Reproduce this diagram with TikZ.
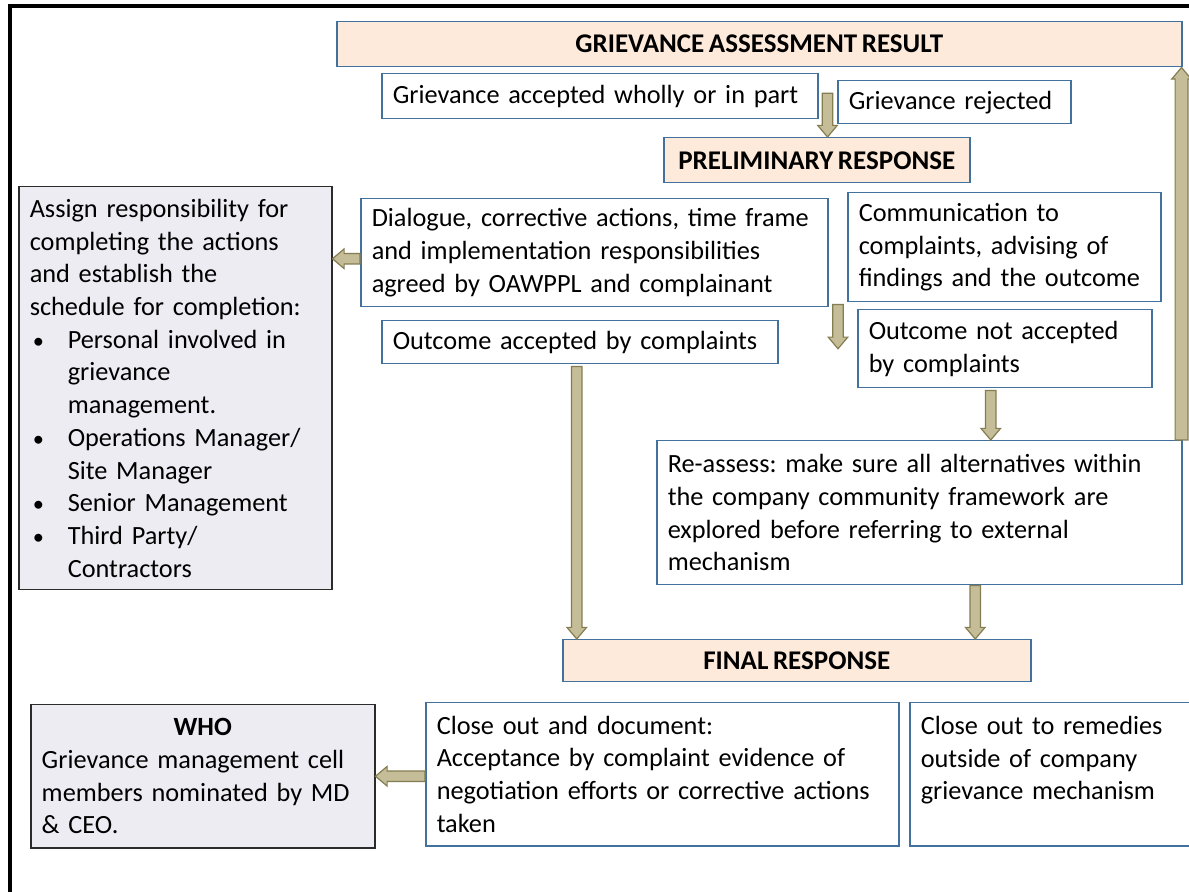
\documentclass[tikz,border=0pt]{standalone}
\usepackage{fontspec}
\setmainfont{Carlito}
\usetikzlibrary{calc}
\definecolor{boxblue}{HTML}{41719C}
\definecolor{peach}{HTML}{FDEADA}
\definecolor{lav}{HTML}{EEECF3}
\definecolor{lavborder}{HTML}{2B2B2B}
\definecolor{arrowfill}{HTML}{C4BD97}
\definecolor{arrowdraw}{HTML}{857D52}
\newcommand{\blt}{\makebox[19pt][l]{\hspace{1.5pt}\scalebox{0.85}{\textbullet}}}
\newcommand{\ind}{\hspace*{19pt}}
\newcommand{\myfnt}{\fontsize{13.15}{16.35}\selectfont\frenchspacing\spaceskip=0.17em plus 0.1em minus 0.04em\relax}
\newcommand{\hdfnt}{\fontsize{13.5}{16.35}\selectfont\bfseries\spaceskip=0.17em plus 0.1em minus 0.04em\relax}
\newcommand{\blockarrow}[3][2.6pt]{%
  \coordinate (ba) at (#2);
  \coordinate (bb) at (#3);
  \coordinate (bh) at ($(bb)!5.8pt!(ba)$);
  \filldraw[barrow] ($(ba)!#1!90:(bb)$) -- ($(bh)!#1!90:(bb)$) -- ($(bh)!4.9pt!90:(bb)$) -- (bb) -- ($(bh)!4.9pt!-90:(bb)$) -- ($(bh)!#1!-90:(bb)$) -- ($(ba)!#1!-90:(bb)$) -- cycle;}
\begin{document}
\begin{tikzpicture}[x=0.5pt,y=-0.5pt,
  txt/.style={font=\myfnt},
  box/.style={draw=boxblue, line width=0.75pt, fill=white, anchor=north west, inner xsep=5.5pt, inner ysep=0pt, align=left, txt},
  head/.style={box, fill=peach, align=center, font=\hdfnt},
  lbox/.style={box, draw=lavborder, fill=lav},
  barrow/.style={fill=arrowfill, draw=arrowdraw, line width=0.6pt, line join=miter},
  frame/.style={line width=1.65pt, draw=black}]
\clip (0,0) rectangle (1189,892);
\fill[white] (0,0) rectangle (1189,892);
\draw[frame] (10,900) -- (10,6) -- (1200,6);

\node[head, minimum width=422.5pt, minimum height=22.5pt] (gar) at (336,21) {GRIEVANCE ASSESSMENT RESULT};
\node[box, text width=207pt, minimum height=22.5pt] (acc) at (381,73) {Grievance accepted wholly or in part};
\node[box, text width=105.5pt, minimum height=21.5pt] (rej) at (837,80) {Grievance rejected};
\node[head, minimum width=153pt, minimum height=22.5pt] (pre) at (663,137) {PRELIMINARY RESPONSE};

\node[lbox, text width=145.5pt, minimum height=201.5pt] (assign) at (18,186) {\mbox{Assign responsibility for}\\\mbox{completing the actions}\\\mbox{and establish the}\\\mbox{schedule for completion:}\\\mbox{\blt Personal involved in}\\\ind grievance\\\ind management.\\\mbox{\blt Operations Manager/}\\\ind Site Manager\\\mbox{\blt Senior Management}\\\mbox{\blt Third Party/}\\\ind Contractors};

\node[box, text width=222.5pt, minimum height=54pt] (dia) at (360,198) {\mbox{Dialogue, corrective actions, time frame}\\\mbox{and implementation responsibilities}\\\mbox{agreed by OAWPPL and complainant}};
\node[box, text width=145.5pt, minimum height=54.5pt] (com) at (847,192) {\mbox{Communication to}\\\mbox{complaints, advising of}\\\mbox{findings and the outcome}};
\node[box, text width=187pt, minimum height=21.5pt] (oacc) at (381,320) {\mbox{Outcome accepted by complaints}};
\node[box, text width=136pt, minimum height=39pt] (onot) at (857,309) {\mbox{Outcome not accepted}\\\mbox{by complaints}};
\node[box, text width=251.5pt, minimum height=72pt] (reas) at (656,440) {\mbox{Re-assess: make sure all alternatives within}\\\mbox{the company community framework are}\\\mbox{explored before referring to external}\\\mbox{mechanism}};
\node[head, minimum width=234pt, minimum height=21pt] (fin) at (562,639) {FINAL RESPONSE};
\node[box, text width=225.5pt, minimum height=71.5pt] (clo) at (425,702) {\mbox{Close out and document:}\\\mbox{Acceptance by complaint evidence of}\\\mbox{negotiation efforts or corrective actions}\\\mbox{taken}};
\node[box, text width=134.5pt, minimum height=71.5pt] (rem) at (909,702) {\mbox{Close out to remedies}\\\mbox{outside of company}\\\mbox{grievance mechanism}\\\mbox{}};
\node[lbox, text width=161pt, minimum height=71.5pt] (who) at (30,704) {\makebox[\linewidth]{\textbf{WHO}}\\\mbox{Grievance management cell}\\\mbox{members nominated by MD}\\\mbox{\& CEO.}};

\coordinate (s1) at ($(acc.east)+(9,-3)$);
\coordinate (s2) at ($(dia.west)+(0,6)$);
\coordinate (s3) at ($(com.south west)+(-9,2)$);
\coordinate (s4) at ($(oacc.south)+(-3,2)$);
\coordinate (s5) at ($(onot.south)+(-14,2)$);
\coordinate (s6) at ($(reas.south)+(56,0)$);
\coordinate (s7) at ($(reas.north east)+(-1,0)$);
\coordinate (e7) at ($(gar.south east)+(-1,0)$);
\coordinate (s8) at ($(clo.west)+(0,2)$);

\blockarrow{s1}{s1 |- pre.north}
\blockarrow{s2}{s2 -| assign.east}
\blockarrow{s3}{s3 |- onot.west}
\blockarrow{s4}{s4 |- fin.north}
\blockarrow{s5}{s5 |- reas.north}
\blockarrow{s6}{s6 |- fin.north}
\blockarrow[3.2pt]{s7}{e7}
\blockarrow{s8}{s8 -| who.east}
\end{tikzpicture}
\end{document}
